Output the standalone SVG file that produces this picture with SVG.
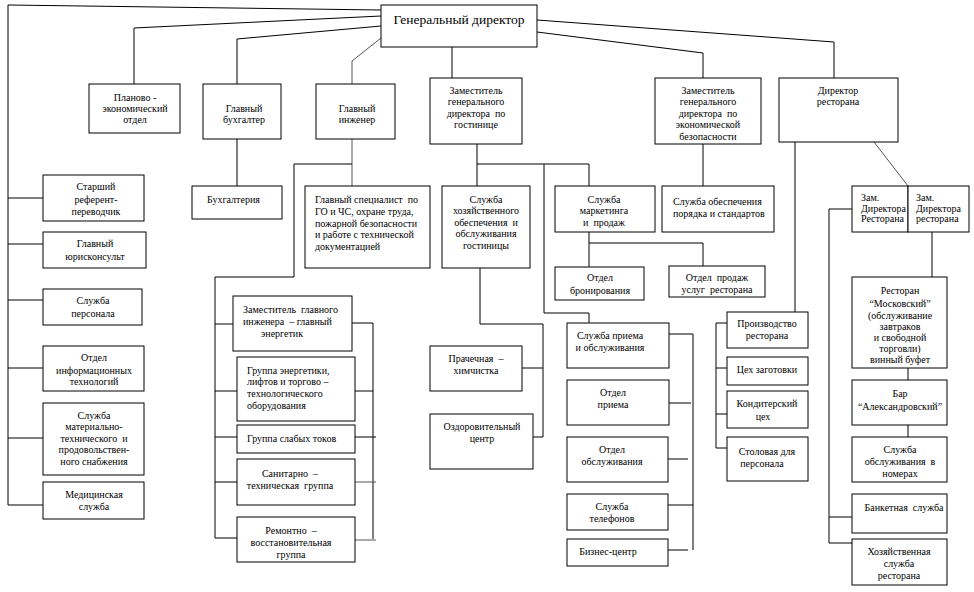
<svg xmlns="http://www.w3.org/2000/svg" width="974" height="592" viewBox="0 0 974 592">
<style>
.b{fill:#fff;stroke:#000;stroke-width:1}
.t{font-family:"Liberation Serif","Times New Roman",serif;font-size:10px;fill:#000;text-anchor:middle;white-space:pre}
.l{text-anchor:start}
.c{fill:none;stroke:#000;stroke-width:1}
.g{stroke:#555}
</style>
<rect width="974" height="592" fill="#fff"/>
<g id="connectors">
<path class="c" d="M381,10 L8,5 L8,505"/>
<path class="c" d="M8,198 H43 M8,244 H43 M8,300 H43 M8,368 H43 M8,438 H43 M8,505 H43"/>
<path class="c" d="M381,16 L134,28 V84"/>
<path class="c" d="M381,26 L237,39 V84"/>
<path class="c g" d="M381,38 L352,61 V84"/>
<path class="c" d="M452,47 V78"/>
<path class="c" d="M537,20 L834,42 V78"/>
<path class="c" d="M537,32 L703,53 V78"/>
<path class="c" d="M237,139 V186"/>
<path class="c g" d="M352,139 V186"/>
<path class="c" d="M352,164 H294 V277 H215 V538"/>
<path class="c" d="M215,324 H233 M215,391 H237 M215,437 H237 M215,482 H237 M215,538 H237"/>
<path class="c" d="M352,323 H373 V539 M355,391 H373 M355,437 H376"/>
<path class="c g" d="M355,482 H376 M355,540 H376"/>
<path class="c" d="M477,144 V186 M477,164 H589 V186 M544,164 V313 H589 V323"/>
<path class="c" d="M480,268 V324 H543 V437 H533 M543,368 H522"/>
<path class="c" d="M589,232 V267 M589,243 H703 V266"/>
<path class="c" d="M703,144 V186"/>
<path class="c" d="M669,334 H693 V550 M669,403 H691 M668,459 H688 M668,505 H693 M668,550 H688"/>
<path class="c" d="M795,142 V312"/>
<path class="c g" d="M874,142 L908,186"/>
<path class="c" d="M852,209 H829 V543 H852 M829,517 H852"/>
<path class="c" d="M932,232 V277 M908,368 V380 M908,425 V437"/>
<path class="c" d="M727,323 H716 V448 H727 M716,368 H727 M716,414 H727"/>
</g>
<g id="gd"><rect class="b" x="381" y="5" width="156" height="42"/><text class="t" x="459" y="24" style="font-size:13.5px">Генеральный директор</text></g>
<g id="plan"><rect class="b" x="89" y="84" width="91" height="49"/><text class="t" x="135" y="100.5">Планово -</text><text class="t" x="135" y="111.5">экономический</text><text class="t" x="135" y="122.5">отдел</text></g>
<g id="buh"><rect class="b" x="203" y="84" width="78" height="55"/><text class="t" x="244" y="111.5">Главный</text><text class="t" x="244" y="122.5">бухгалтер</text></g>
<g id="eng"><rect class="b" x="316" y="84" width="79" height="55"/><text class="t" x="357" y="111.5">Главный</text><text class="t" x="357" y="122.5">инженер</text></g>
<g id="zamhotel"><rect class="b" x="430" y="78" width="92" height="66"/><text class="t" x="476" y="93.5">Заместитель</text><text class="t" x="476" y="105">генерального</text><text class="t" x="476" y="116.5">директора  по</text><text class="t" x="476" y="128">гостинице</text></g>
<g id="zamecon"><rect class="b" x="655" y="78" width="106" height="66"/><text class="t" x="708" y="93.5">Заместитель</text><text class="t" x="708" y="105">генерального</text><text class="t" x="708" y="116.5">директора  по</text><text class="t" x="708" y="128">экономической</text><text class="t" x="708" y="139.5">безопасности</text></g>
<g id="dirrest"><rect class="b" x="779" y="78" width="119" height="64"/><text class="t" x="838" y="93.5">Директор</text><text class="t" x="838" y="105">ресторана</text></g>
<g id="ref"><rect class="b" x="43" y="175" width="101" height="46"/><text class="t" x="96" y="189.5">Старший</text><text class="t" x="96" y="202.5">референт-</text><text class="t" x="96" y="215">переводчик</text></g>
<g id="jur"><rect class="b" x="43" y="232" width="103" height="36"/><text class="t" x="95" y="246.5">Главный</text><text class="t" x="95" y="260">юрисконсульт</text></g>
<g id="pers"><rect class="b" x="43" y="289" width="99" height="36"/><text class="t" x="93" y="303.5">Служба</text><text class="t" x="93" y="316.5">персонала</text></g>
<g id="it"><rect class="b" x="43" y="346" width="101" height="45"/><text class="t" x="94" y="361">Отдел</text><text class="t" x="94" y="373.5">информационных</text><text class="t" x="94" y="385">технологий</text></g>
<g id="mts"><rect class="b" x="43" y="403" width="101" height="72"/><text class="t" x="94" y="418.5">Служба</text><text class="t" x="94" y="430">материально-</text><text class="t" x="94" y="441.5">технического  и</text><text class="t" x="94" y="453">продовольствен-</text><text class="t" x="94" y="464.5">ного снабжения</text></g>
<g id="med"><rect class="b" x="43" y="482" width="101" height="37"/><text class="t" x="94" y="497.5">Медицинская</text><text class="t" x="94" y="509.5">служба</text></g>
<g id="buhg"><rect class="b" x="192" y="186" width="90" height="33"/><text class="t l" x="207" y="202.5">Бухгалтерия</text></g>
<g id="spec"><rect class="b" x="305" y="186" width="125" height="82"/><text class="t l" x="315" y="203">Главный специалист  по</text><text class="t l" x="315" y="215">ГО и ЧС, охране труда,</text><text class="t l" x="315" y="226.5">пожарной безопасности</text><text class="t l" x="315" y="238">и работе с технической</text><text class="t l" x="315" y="249.5">документацией</text></g>
<g id="zameng"><rect class="b" x="233" y="296" width="119" height="55"/><text class="t l" x="243" y="312.5">Заместитель  главного</text><text class="t l" x="243" y="324.5">инженера  – главный</text><text class="t l" x="261" y="336.5">энергетик</text></g>
<g id="energ"><rect class="b" x="237" y="357" width="118" height="64"/><text class="t l" x="247" y="373.5">Группа энергетики,</text><text class="t l" x="247" y="384.5">лифтов и торгово –</text><text class="t l" x="247" y="396.5">технологического</text><text class="t l" x="247" y="408.5">оборудования</text></g>
<g id="slab"><rect class="b" x="237" y="425" width="118" height="28"/><text class="t l" x="247" y="441.5">Группа слабых токов</text></g>
<g id="san"><rect class="b" x="237" y="459" width="118" height="46"/><text class="t" x="290" y="476.5">Санитарно  –</text><text class="t" x="290" y="488.5">техническая  группа</text></g>
<g id="rem"><rect class="b" x="237" y="517" width="118" height="45"/><text class="t" x="291" y="533.5">Ремонтно  –</text><text class="t" x="291" y="545.5">восстановительная</text><text class="t" x="291" y="557.5">группа</text></g>
<g id="hoz"><rect class="b" x="442" y="186" width="88" height="82"/><text class="t" x="486" y="202.5">Служба</text><text class="t" x="486" y="214">хозяйственного</text><text class="t" x="486" y="225.5">обеспечения  и</text><text class="t" x="486" y="237">обслуживания</text><text class="t" x="486" y="249">гостиницы</text></g>
<g id="mark"><rect class="b" x="555" y="186" width="100" height="46"/><text class="t" x="604" y="202.5">Служба</text><text class="t" x="604" y="214">маркетинга</text><text class="t" x="604" y="225.5">и  продаж</text></g>
<g id="bron"><rect class="b" x="555" y="267" width="89" height="33"/><text class="t" x="600" y="280.5">Отдел</text><text class="t" x="600" y="293.5">бронирования</text></g>
<g id="prod"><rect class="b" x="669" y="266" width="96" height="31"/><text class="t" x="717" y="280.5">Отдел  продаж</text><text class="t" x="717" y="293">услуг  ресторана</text></g>
<g id="order"><rect class="b" x="662" y="186" width="112" height="46"/><text class="t l" x="673" y="204.5">Служба обеспечения</text><text class="t l" x="673" y="216.5">порядка и стандартов</text></g>
<g id="laundry"><rect class="b" x="430" y="346" width="92" height="45"/><text class="t" x="476" y="361.5">Прачечная  –</text><text class="t" x="476" y="373.5">химчистка</text></g>
<g id="health"><rect class="b" x="430" y="414" width="103" height="55"/><text class="t" x="482" y="429.5">Оздоровительный</text><text class="t" x="482" y="441.5">центр</text></g>
<g id="reception"><rect class="b" x="567" y="323" width="102" height="45"/><text class="t" x="610" y="338.5">Служба приема</text><text class="t" x="610" y="350.5">и обслуживания</text></g>
<g id="priem"><rect class="b" x="567" y="380" width="102" height="45"/><text class="t" x="613" y="395.5">Отдел</text><text class="t" x="613" y="407.5">приема</text></g>
<g id="obsl"><rect class="b" x="567" y="437" width="101" height="45"/><text class="t" x="612" y="452.5">Отдел</text><text class="t" x="612" y="464.5">обслуживания</text></g>
<g id="tel"><rect class="b" x="567" y="494" width="101" height="36"/><text class="t" x="612" y="509.5">Служба</text><text class="t" x="612" y="521.5">телефонов</text></g>
<g id="biz"><rect class="b" x="567" y="539" width="101" height="27"/><text class="t" x="608" y="555">Бизнес-центр</text></g>
<g id="proizv"><rect class="b" x="727" y="312" width="81" height="36"/><text class="t" x="767" y="326.5">Производство</text><text class="t" x="767" y="338.5">ресторана</text></g>
<g id="ceh"><rect class="b" x="727" y="357" width="81" height="28"/><text class="t" x="767" y="373">Цех заготовки</text></g>
<g id="kond"><rect class="b" x="727" y="391" width="81" height="37"/><text class="t" x="767" y="407">Кондитерский</text><text class="t" x="763" y="419.5">цех</text></g>
<g id="stol"><rect class="b" x="727" y="437" width="81" height="44"/><text class="t" x="767" y="455">Столовая для</text><text class="t" x="762" y="467">персонала</text></g>
<g id="zamrest1"><rect class="b" x="852" y="186" width="56" height="46"/><text class="t l" x="861" y="201">Зам.</text><text class="t l" x="861" y="211.5">Директора</text><text class="t l" x="861" y="222">Ресторана</text></g>
<g id="zamrest2"><rect class="b" x="908" y="186" width="61" height="46"/><text class="t l" x="916" y="201">Зам.</text><text class="t l" x="916" y="211.5">Директора</text><text class="t l" x="916" y="222">ресторана</text></g>
<g id="moscow"><rect class="b" x="852" y="277" width="95" height="91"/><text class="t" x="900" y="293.5">Ресторан</text><text class="t" x="900" y="307">“Московский”</text><text class="t" x="900" y="318.5">(обслуживание</text><text class="t" x="900" y="329.5">завтраков</text><text class="t" x="900" y="340.5">и свободной</text><text class="t" x="900" y="352">торговли)</text><text class="t" x="900" y="363">винный буфет</text></g>
<g id="bar"><rect class="b" x="852" y="380" width="95" height="45"/><text class="t" x="900" y="397">Бар</text><text class="t" x="900" y="410">“Александровский”</text></g>
<g id="room"><rect class="b" x="852" y="437" width="95" height="45"/><text class="t" x="900" y="453">Служба</text><text class="t" x="900" y="465">обслуживания  в</text><text class="t" x="900" y="477">номерах</text></g>
<g id="banket"><rect class="b" x="852" y="494" width="95" height="39"/><text class="t" x="904" y="511">Банкетная  служба</text></g>
<g id="hozrest"><rect class="b" x="852" y="539" width="95" height="46"/><text class="t" x="899" y="554.5">Хозяйственная</text><text class="t" x="899" y="566.5">служба</text><text class="t" x="899" y="578.5">ресторана</text></g>
</svg>
